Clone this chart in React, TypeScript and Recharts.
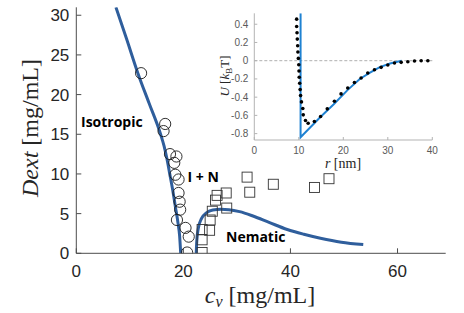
import React from "react";
import { ComposedChart, Line, Scatter, XAxis, YAxis, ReferenceLine } from "recharts";

// ---- Main chart data ----
const circleCv = [12.1, 16.6, 16.3, 17.5, 18.7, 18.3, 18.5, 19.1, 19.1, 19.3, 19.4, 18.8, 20.4, 21.0, 20.7];
const circleDext = [22.7, 16.3, 15.4, 12.5, 12.2, 11.4, 9.9, 9.3, 7.6, 6.5, 5.5, 4.2, 3.2, 2.1, 0.1];

const squareCv = [23.5, 23.5, 23.5, 24.9, 25.0, 25.4, 28.1, 26.0, 26.3, 28.0, 32.4, 31.9, 36.8, 44.5, 47.2];
const squareDext = [0.1, 1.7, 3.0, 2.9, 4.2, 5.3, 5.7, 6.7, 7.3, 7.6, 7.7, 9.6, 8.7, 8.3, 9.4];

const isoLineCv = [7.4, 9.4, 11.5, 13.6, 15.7, 16.4, 16.9, 17.4, 18.0, 18.5, 19.0, 19.3, 19.5];
const isoLineDext = [31, 27, 22.7, 18.9, 15.1, 13.5, 12, 10.2, 8, 5.9, 3.8, 2.2, 0];

const nemLineCv = [22.4, 22.5, 22.8, 23.4, 24.3, 25.5, 27, 28.5, 30.5, 33, 36, 39.4, 42.5, 45.6, 49.5, 53.6];
const nemLineDext = [0, 1.5, 3.2, 4.4, 5.1, 5.45, 5.55, 5.5, 5.25, 4.7, 3.9, 3.0, 2.4, 1.9, 1.4, 1.1];

const mainXTicks = [0, 20, 40, 60];
const mainYTicks = [0, 5, 10, 15, 20, 25, 30];

// ---- Inset data ----
const fitR = [10.4, 10.4, 14.8, 17.8, 21, 23.7, 26, 28.2, 30.5, 33.1];
const fitU = [0.52, -0.84, -0.62, -0.48, -0.32, -0.2, -0.13, -0.07, -0.03, 0];

const simR = [9.52, 9.52, 9.6, 9.66, 9.75, 9.8, 9.9, 10.0, 10.05, 10.1, 10.2, 10.3, 10.4, 10.6, 10.9, 11.0, 11.5, 12.1, 13.5, 14.9, 16.4, 18.0, 19.5, 21.0, 22.5, 24.0, 25.5, 27.0, 28.5, 30.0, 31.5, 33.0, 34.5, 36.0, 37.5, 39.0];
const simU = [0.456, 0.376, 0.306, 0.237, 0.164, 0.095, 0.025, -0.044, -0.113, -0.182, -0.248, -0.317, -0.383, -0.452, -0.525, -0.594, -0.656, -0.686, -0.667, -0.613, -0.528, -0.445, -0.364, -0.299, -0.24, -0.19, -0.135, -0.1, -0.073, -0.047, -0.025, -0.018, -0.011, -0.004, 0, 0];

const insetXTicks = [0, 10, 20, 30, 40];
const insetYTicks = [-0.8, -0.6, -0.4, -0.2, 0, 0.2, 0.4];

const zip = (xs: number[], ys: number[]) => xs.map((x, i) => ({ x, y: ys[i] }));

const circles = zip(circleCv, circleDext);
const squares = zip(squareCv, squareDext);
const isoLine = zip(isoLineCv, isoLineDext);
const nemLine = zip(nemLineCv, nemLineDext);
const fitLine = zip(fitR, fitU);
const simDots = zip(simR, simU);

const MAIN_BLUE = "#2F5E9C";
const INSET_BLUE = "#1F82D2";
const FRAME = "#4d4d4d";
const TICKFONT = "Liberation Sans, Arial, sans-serif";
const SERIF = "Liberation Serif, Times New Roman, serif";
const LABELFONT = "Open Sans, Noto Sans, sans-serif";

const blank = () => "";

const CircleShape = (p: any) => (
  <circle cx={p.cx} cy={p.cy} r={5.6} fill="none" stroke="#1a1a1a" strokeWidth={0.9} />
);
const SquareShape = (p: any) => (
  <rect x={p.cx - 5} y={p.cy - 5} width={10} height={10} fill="none" stroke="#333" strokeWidth={0.9} />
);
const DotShape = (p: any) => <circle cx={p.cx} cy={p.cy} r={1.8} fill="#000" />;

export default function App() {
  return (
    <div style={{ position: "absolute", left: 0, top: 0, width: 464, height: 313, background: "#fff" }}>
      <div style={{ position: "absolute", left: 0, top: 0 }}>
        <ComposedChart width={464} height={313} margin={{ top: 7.3, right: 18.3, bottom: 29.7, left: 16.3 }}>
          <XAxis
            type="number"
            dataKey="x"
            domain={[0, 69]}
            ticks={mainXTicks}
            height={30}
            tickSize={-5}
            tickMargin={16.5}
            stroke={FRAME}
            allowDataOverflow
            tick={{ fill: "#262626", fontSize: 17, fontFamily: TICKFONT }}
          />
          <XAxis
            xAxisId="top"
            orientation="top"
            type="number"
            dataKey="x"
            domain={[0, 69]}
            ticks={mainXTicks}
            height={0}
            tickSize={-5}
            stroke={FRAME}
            tickFormatter={blank}
          />
          <YAxis
            type="number"
            dataKey="y"
            domain={[0, 31]}
            ticks={mainYTicks}
            width={60}
            tickSize={-5}
            tickMargin={12}
            stroke={FRAME}
            allowDataOverflow
            tick={{ fill: "#262626", fontSize: 17, fontFamily: TICKFONT }}
          />
          <YAxis
            yAxisId="right"
            orientation="right"
            type="number"
            dataKey="y"
            domain={[0, 31]}
            ticks={mainYTicks}
            width={0}
            tickSize={-5}
            stroke={FRAME}
            tickFormatter={blank}
          />
          <Scatter data={circles} shape={CircleShape} isAnimationActive={false} />
          <Scatter data={squares} shape={SquareShape} isAnimationActive={false} />
          <Line data={isoLine} dataKey="y" type="monotone" stroke={MAIN_BLUE} strokeWidth={3} dot={false} isAnimationActive={false} />
          <Line data={nemLine} dataKey="y" type="monotone" stroke={MAIN_BLUE} strokeWidth={3} dot={false} isAnimationActive={false} />
        </ComposedChart>
      </div>

      <div style={{ position: "absolute", left: 210, top: 5 }}>
        <ComposedChart width={240} height={175} margin={{ top: 8.3, right: 17.7, bottom: 20, left: 14.3 }}>
          <XAxis
            type="number"
            dataKey="x"
            domain={[0, 40]}
            ticks={insetXTicks}
            height={20}
            tickSize={-3}
            tickMargin={10}
            stroke="#b3b3b3"
            allowDataOverflow
            tick={{ fill: "#5a5a5a", fontSize: 10, fontFamily: TICKFONT }}
          />
          <XAxis
            xAxisId="top"
            orientation="top"
            type="number"
            dataKey="x"
            domain={[0, 40]}
            ticks={insetXTicks}
            height={0}
            tickSize={-3}
            stroke="#b3b3b3"
            tickFormatter={blank}
          />
          <YAxis
            type="number"
            dataKey="y"
            domain={[-0.87, 0.52]}
            ticks={insetYTicks}
            width={30}
            tickSize={-3}
            tickMargin={9}
            stroke="#b3b3b3"
            allowDataOverflow
            tick={{ fill: "#5a5a5a", fontSize: 10, fontFamily: TICKFONT }}
          />
          <YAxis
            yAxisId="right"
            orientation="right"
            type="number"
            dataKey="y"
            domain={[-0.87, 0.52]}
            ticks={insetYTicks}
            width={0}
            tickSize={-3}
            stroke="#b3b3b3"
            tickFormatter={blank}
          />
          <ReferenceLine y={0} stroke="#9a9a9a" strokeDasharray="3 2" strokeWidth={0.8} />
          <Line data={fitLine} dataKey="y" type="linear" stroke={INSET_BLUE} strokeWidth={2} dot={false} isAnimationActive={false} />
          <Scatter data={simDots} shape={DotShape} isAnimationActive={false} />
        </ComposedChart>
      </div>

      <svg width={464} height={313} style={{ position: "absolute", left: 0, top: 0, pointerEvents: "none" }}>
        <text x={81} y={127} fontFamily={LABELFONT} fontWeight="bold" fontSize={14} fill="#000">Isotropic</text>
        <text x={187.5} y={182.3} fontFamily={LABELFONT} fontWeight="bold" fontSize={14} fill="#000">I + N</text>
        <text x={226} y={242.3} fontFamily={LABELFONT} fontWeight="bold" fontSize={14} fill="#000">Nematic</text>

        <text x={260} y={303} textAnchor="middle" fontFamily={SERIF} fontSize={24} fill="#262626">
          <tspan fontStyle="italic">c</tspan>
          <tspan fontStyle="italic" fontSize={16} dy={4}>v</tspan>
          <tspan dy={-4}> [mg/mL]</tspan>
        </text>
        <text transform="translate(38,128) rotate(-90)" textAnchor="middle" fontFamily={SERIF} fontSize={24} fill="#262626">
          <tspan fontStyle="italic">Dext</tspan>
          <tspan> [mg/mL]</tspan>
        </text>

        <text x={343} y={168} textAnchor="middle" fontFamily={SERIF} fontSize={14} fill="#262626">
          <tspan fontStyle="italic">r</tspan>
          <tspan> [nm]</tspan>
        </text>
        <text transform="translate(229,76) rotate(-90)" textAnchor="middle" fontFamily={SERIF} fontSize={13} fill="#262626">
          <tspan fontStyle="italic">U</tspan>
          <tspan> [</tspan>
          <tspan fontStyle="italic">k</tspan>
          <tspan fontSize={9} dy={3}>B</tspan>
          <tspan dy={-3}>T]</tspan>
        </text>
      </svg>
    </div>
  );
}
